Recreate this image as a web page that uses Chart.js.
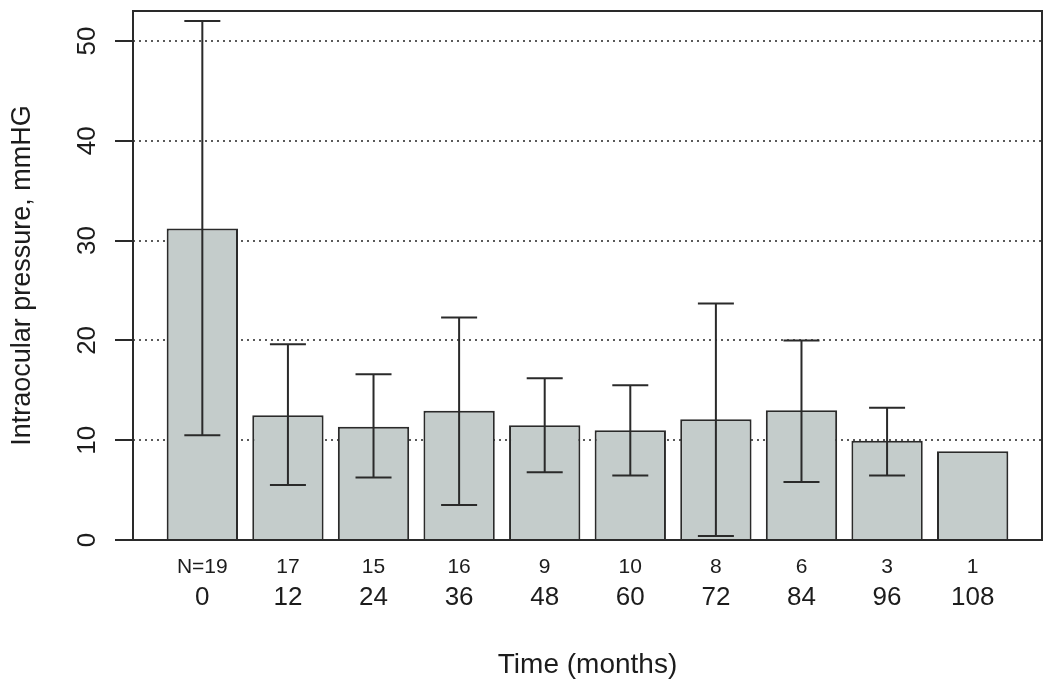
<!DOCTYPE html>
<html>
<head>
<meta charset="utf-8">
<script src="https://cdn.jsdelivr.net/npm/chart.js@4/dist/chart.umd.min.js"></script>
<style>
  html, body { margin: 0; padding: 0; background: #ffffff; }
  #wrap { width: 1050px; height: 684px; }
</style>
</head>
<body>
<div id="wrap"><canvas id="c" width="1050" height="684"></canvas></div>
<script>
// ---- data ----
const months   = ['0', '12', '24', '36', '48', '60', '72', '84', '96', '108'];
const nCounts  = ['N=19', '17', '15', '16', '9', '10', '8', '6', '3', '1'];
const means    = [31.2, 12.5, 11.35, 12.95, 11.5, 11.0, 12.1, 13.0, 9.95, 8.9];
const upperErr = [52.0, 19.6, 16.6, 22.3, 16.2, 15.5, 23.7, 20.0, 13.25, null];
const lowerErr = [10.5, 5.5, 6.25, 3.5, 6.8, 6.45, 0.4, 5.8, 6.45, null];
const yTicks   = [0, 10, 20, 30, 40, 50];

const FONT = "'Liberation Sans', Arial, Helvetica, sans-serif";
const INK = '#1c1c1c';

const errorBars = {
  id: 'errorBars',
  afterDatasetsDraw(chart) {
    const ctx = chart.ctx;
    const xs = chart.scales.x, ys = chart.scales.y;
    ctx.save();
    ctx.strokeStyle = '#2a2a2a';
    ctx.lineWidth = 2;
    for (let i = 0; i < means.length; i++) {
      if (upperErr[i] == null || lowerErr[i] == null) continue;
      const px = xs.getPixelForValue(i);
      const yt = ys.getPixelForValue(upperErr[i]);
      const yb = ys.getPixelForValue(lowerErr[i]);
      const hw = 18;
      ctx.beginPath();
      ctx.moveTo(px, yt); ctx.lineTo(px, yb);
      ctx.moveTo(px - hw, yt); ctx.lineTo(px + hw, yt);
      ctx.moveTo(px - hw, yb); ctx.lineTo(px + hw, yb);
      ctx.stroke();
    }
    ctx.restore();
  }
};

const plotBox = {
  id: 'plotBox',
  afterDraw(chart) {
    const a = chart.chartArea, ctx = chart.ctx;
    ctx.save();
    ctx.strokeStyle = '#2a2a2a';
    ctx.lineWidth = 2;
    ctx.strokeRect(a.left, a.top, a.right - a.left, a.bottom - a.top);
    ctx.restore();
  }
};

function idxTicks(scale) {
  scale.ticks = months.map((m, i) => ({ value: i }));
}
function noPad(s) {
  s.paddingLeft = 0; s.paddingRight = 0; s.paddingTop = 0; s.paddingBottom = 0;
}

new Chart(document.getElementById('c'), {
  type: 'bar',
  data: {
    datasets: [{
      data: means.map((v, i) => ({ x: i, y: v })),
      backgroundColor: '#c4cccb',
      borderColor: '#2a2a2a',
      borderWidth: 2,
      categoryPercentage: 1,
      barPercentage: 1 / 1.2
    }]
  },
  options: {
    responsive: false,
    animation: false,
    layout: { padding: { top: 11, right: 8, left: 0, bottom: 0 } },
    plugins: { legend: { display: false }, tooltip: { enabled: false } },
    scales: {
      x: {
        type: 'linear',
        position: 'bottom',
        offset: false,
        min: -0.81, max: 9.81,
        afterBuildTicks: idxTicks,
        afterFit(s) { s.height = 34; noPad(s); },
        grid: { display: false, offset: false },
        border: { display: false },
        ticks: {
          autoSkip: false, maxRotation: 0, minRotation: 0,
          padding: 7,
          color: INK,
          font: { family: FONT, size: 21, lineHeight: 1.2 },
          callback: (v, i) => nCounts[i]
        }
      },
      x2: {
        type: 'linear',
        position: 'bottom',
        offset: false,
        min: -0.81, max: 9.81,
        afterBuildTicks: idxTicks,
        afterFit(s) { s.height = 110; noPad(s); },
        grid: { display: false, offset: false },
        border: { display: false },
        ticks: {
          autoSkip: false, maxRotation: 0, minRotation: 0,
          padding: 0,
          color: INK,
          font: { family: FONT, size: 26, lineHeight: 1.2 },
          callback: (v, i) => months[i]
        },
        title: {
          display: true,
          text: 'Time (months)',
          color: INK,
          font: { family: FONT, size: 28, lineHeight: 1.2 },
          padding: { top: 0, bottom: 2 }
        }
      },
      y: {
        min: 0, max: 53,
        afterBuildTicks(s) { s.ticks = yTicks.map(v => ({ value: v })); },
        afterFit(s) { s.width = 133; noPad(s); },
        grid: {
          color: '#5a5a5a',
          lineWidth: 2,
          drawTicks: true,
          tickLength: 18,
          tickColor: '#2a2a2a',
          tickWidth: 2,
          tickBorderDash: []
        },
        border: { display: false, dash: [2, 4] },
        ticks: {
          color: INK,
          minRotation: 90, maxRotation: 90,
          crossAlign: 'center',
          padding: 13,
          font: { family: FONT, size: 26, lineHeight: 1.2 }
        },
        title: {
          display: true,
          text: 'Intraocular pressure, mmHG',
          color: INK,
          font: { family: FONT, size: 27, lineHeight: 1.2 },
          padding: { top: 6, bottom: 0 }
        }
      }
    }
  },
  plugins: [errorBars, plotBox]
});
</script>
</body>
</html>
